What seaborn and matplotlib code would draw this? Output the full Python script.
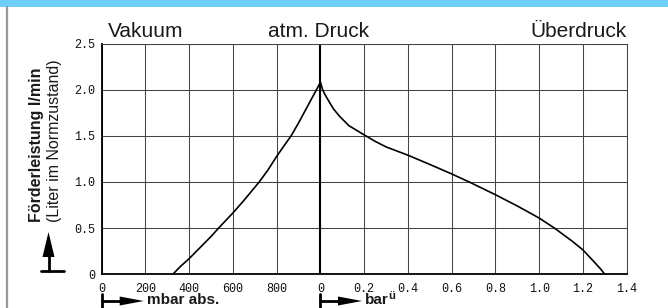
import matplotlib
matplotlib.use("Agg")
import matplotlib.pyplot as plt
import seaborn as sns
import pandas as pd
import numpy as np
from matplotlib.patches import Rectangle, Polygon
from matplotlib.lines import Line2D

# ---- data ----
vac_mbar = [325, 359, 400, 450, 500, 534, 560, 600, 650, 720, 760, 800, 830, 866, 900, 950, 975, 1000]
vac_flow = [0.0, 0.083, 0.17, 0.29, 0.41, 0.50, 0.565, 0.665, 0.80, 1.0, 1.13, 1.278, 1.38, 1.50, 1.64, 1.86, 1.97, 2.08]
over_bar = [0.0, 0.01, 0.02, 0.042, 0.06, 0.088, 0.13, 0.2, 0.25, 0.3, 0.4, 0.5, 0.6, 0.68, 0.8, 0.9, 1.0, 1.07, 1.15, 1.2, 1.25, 1.28, 1.30]
over_flow = [2.08, 2.0, 1.95, 1.86, 1.79, 1.71, 1.61, 1.51, 1.44, 1.38, 1.29, 1.19, 1.087, 1.0, 0.862, 0.74, 0.609, 0.5, 0.36, 0.264, 0.137, 0.06, 0.0]
x_tick_labels = ["0", "200", "400", "600", "800", "0", "0.2", "0.4", "0.6", "0.8", "1.0", "1.2", "1.4"]
y_ticks = [0, 0.5, 1.0, 1.5, 2.0, 2.5]
y_tick_labels = ["0", "0.5", "1.0", "1.5", "2.0", "2.5"]
section_labels = ["Vakuum", "atm. Druck", "Überdruck"]

W, H = 668, 308
sns.set_theme(style="white")
plt.rcParams["font.family"] = ["Liberation Sans", "DejaVu Sans"]

fig = plt.figure(figsize=(W / 100, H / 100), dpi=100)
fig.patch.set_facecolor("white")

def fx(x):
    return x / W

def fy(y):
    return 1 - y / H

ax = fig.add_axes([fx(101.7), fy(274.3), fx(626.7) - fx(101.7), fy(43.5) - fy(274.3)])
ax.set_facecolor("white")

# unified horizontal position: vacuum 0..1000 mbar -> 0..5, overpressure 0..1.4 bar -> 5..12
pos = [m / 200 for m in vac_mbar] + [5 + b / 0.2 for b in over_bar[1:]]
flow = vac_flow + over_flow[1:]
df = pd.DataFrame({"pos": pos, "flow": flow})

ax.set_xlim(0, 12)
ax.set_ylim(0, 2.5)
ax.set_xticks(range(13))
ax.set_xticklabels(x_tick_labels)
ax.set_yticks(y_ticks)
ax.set_yticklabels(y_tick_labels)
ax.grid(True, color="#444444", linewidth=0.75)
ax.set_axisbelow(True)
ax.axvline(5, color="black", linewidth=1.5, zorder=2)

sns.lineplot(data=df, x="pos", y="flow", sort=False, color="black",
             linewidth=1.2, ax=ax, zorder=3)
ax.set_xlabel("")
ax.set_ylabel("")

for s in ["left", "bottom"]:
    ax.spines[s].set_color("black")
    ax.spines[s].set_linewidth(1.3)
for s in ["top", "right"]:
    ax.spines[s].set_color("#444444")
    ax.spines[s].set_linewidth(0.75)

ax.tick_params(axis="both", length=0)
ax.tick_params(axis="y", pad=5)
ax.tick_params(axis="x", pad=6)
for lab in ax.get_xticklabels() + ax.get_yticklabels():
    lab.set_fontfamily(["Liberation Mono", "DejaVu Sans Mono"])
    lab.set_fontsize(8.5)
    lab.set_color("#111111")

# ---- decorations ----
fig.add_artist(Rectangle((0, fy(7)), 1, 1 - fy(7), transform=fig.transFigure,
                         facecolor="#6dcff6", edgecolor="none"))
fig.add_artist(Line2D([fx(6.5), fx(6.5)], [fy(7), 0], transform=fig.transFigure,
                      color="#9a9a9a", linewidth=1.6))

# section labels
fig.text(fx(145.5), fy(36.7), section_labels[0], fontsize=15, ha="center", va="baseline", color="#1a1a1a")
fig.text(fx(318.5), fy(36.7), section_labels[1], fontsize=15, ha="center", va="baseline", color="#1a1a1a")
fig.text(fx(626.7), fy(36.7), section_labels[2], fontsize=15, ha="right", va="baseline", color="#1a1a1a")

# y axis label (two lines, rotated)
fig.text(fx(37), fy(222), "Förderleistung l/min", rotation=90, fontsize=11.5,
         fontweight="bold", ha="center", va="bottom", color="#1a1a1a")
fig.text(fx(55), fy(222), "(Liter im Normzustand)", rotation=90, fontsize=11.5,
         ha="center", va="bottom", color="#1a1a1a")

# upward arrow with base bar
fig.add_artist(Line2D([fx(48.5), fx(48.5)], [fy(271), fy(250)], transform=fig.transFigure,
                      color="black", linewidth=2))
fig.add_artist(Line2D([fx(40.5), fx(64)], [fy(271), fy(271)], transform=fig.transFigure,
                      color="black", linewidth=2))
fig.add_artist(Polygon([[fx(42.5), fy(257)], [fx(54.5), fy(257)], [fx(48.5), fy(232)]],
                       closed=True, transform=fig.transFigure, facecolor="black", edgecolor="none"))

# bottom unit arrows
def unit_arrow(x0, text, sup=None):
    fig.add_artist(Line2D([fx(x0), fx(x0)], [fy(294), 0], transform=fig.transFigure,
                          color="black", linewidth=2))
    fig.add_artist(Line2D([fx(x0), fx(x0 + 22)], [fy(301), fy(301)], transform=fig.transFigure,
                          color="black", linewidth=2))
    fig.add_artist(Polygon([[fx(x0 + 18), fy(296.5)], [fx(x0 + 18), fy(305.5)], [fx(x0 + 42), fy(301)]],
                           closed=True, transform=fig.transFigure, facecolor="black", edgecolor="none"))
    fig.text(fx(x0 + 45), fy(307.5), text, fontsize=11, fontweight="bold",
             ha="left", va="bottom", color="#1a1a1a")
    if sup:
        fig.text(fx(x0 + 68), fy(299), sup, fontsize=8, fontweight="bold",
                 ha="left", va="baseline", color="#1a1a1a")

unit_arrow(101.7, "mbar abs.")
unit_arrow(320.0, "bar", "ü")

fig.savefig("out.png", dpi=100, facecolor="white")
